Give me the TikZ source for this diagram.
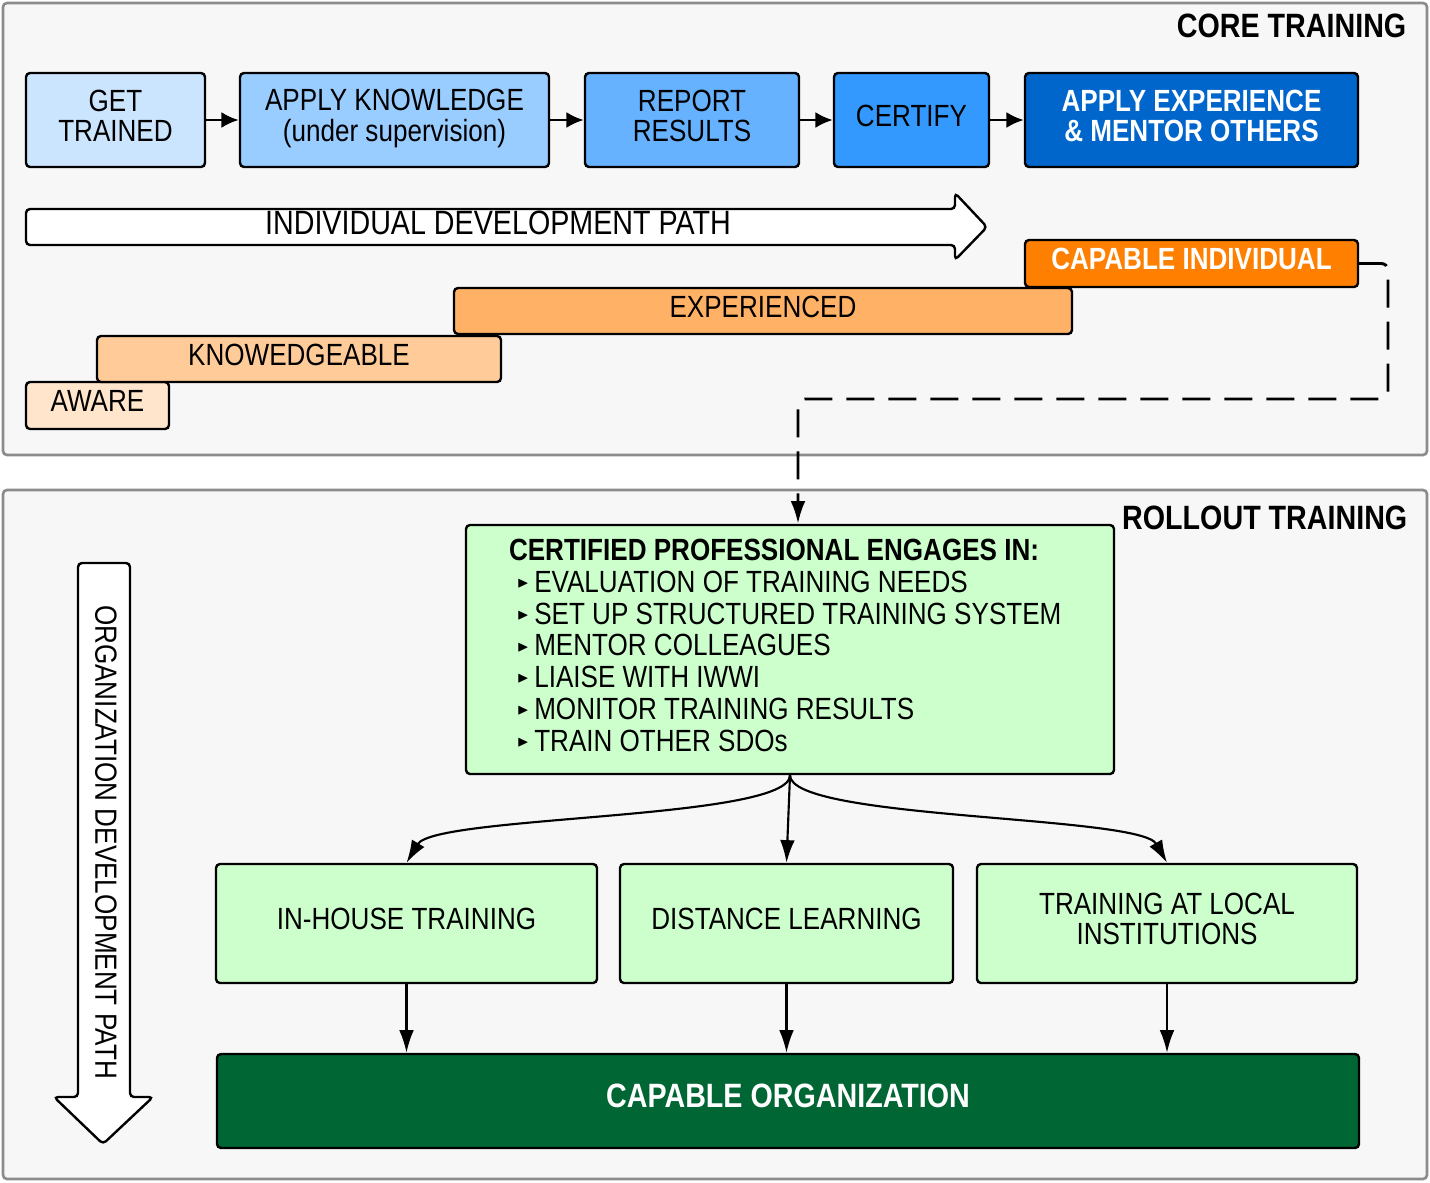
\documentclass[tikz,border=0pt]{standalone}
\usepackage{amssymb}
\usepackage{fontspec}
\setmainfont{Liberation Sans}[FakeStretch=0.85]
\usetikzlibrary{arrows.meta}

\definecolor{blueA}{HTML}{CCE5FF}
\definecolor{blueB}{HTML}{99CCFF}
\definecolor{blueC}{HTML}{66B2FF}
\definecolor{blueD}{HTML}{3399FF}
\definecolor{blueE}{HTML}{0066CC}
\definecolor{orangeA}{HTML}{FFE5CC}
\definecolor{orangeB}{HTML}{FFCC99}
\definecolor{orangeC}{HTML}{FFB266}
\definecolor{orangeD}{HTML}{FF8000}
\definecolor{greenA}{HTML}{CCFFCC}
\definecolor{greenB}{HTML}{006633}
\definecolor{panelfill}{HTML}{F7F7F7}

\newcommand\dgfont{\fontsize{23}{22.5}\selectfont}
\newcommand\dgbigfont{\fontsize{25.3}{24}\selectfont}
\newcommand\boxtext[1]{\begin{tabular}{@{}c@{}}#1\end{tabular}}
\newcommand\boxtextleft[2]{\makebox[#1][l]{\begin{tabular}{@{}l@{}}#2\end{tabular}}}
\newcommand\listmark{\hspace*{6pt}\raisebox{3.5pt}{\scalebox{0.5}{$\blacktriangleright$}}\hspace{4pt}}

\tikzset{
  box/.style={draw=black, line width=1.8pt, rounded corners=3pt, inner sep=0pt, font=\dgfont},
  stepflow/.style={line width=2.2pt, -{Latex[length=13pt,width=12pt]}},
  flow/.style={line width=1.6pt, -{Latex[length=17pt,width=11pt]}},
  panel/.style={draw=black!45, line width=2pt, rounded corners=3pt, fill=panelfill},
  bigarrow/.style={draw=black, line width=1.8pt, fill=white, rounded corners=3pt},
}

\begin{document}
\begin{tikzpicture}[x=0.75pt,y=0.75pt,yscale=-1]
\useasboundingbox (0,0) rectangle (1430,1182);

%Shape: Panels
\draw[panel] (3,3) rectangle (1427,455);
\draw[panel] (3,490) rectangle (1427,1179);

% Titles
\node[font=\dgbigfont\bfseries, anchor=east] (coretitle) at (1411,26) {CORE TRAINING};
\node[font=\dgbigfont\bfseries, anchor=east] (rollouttitle) at (1412,518) {ROLLOUT TRAINING};

%Shape: Core training steps
\node[box, fill=blueA, minimum width=134.25pt, minimum height=70.5pt] (train) at (115.5,120) {\boxtext{GET\\TRAINED}};
\node[box, fill=blueB, minimum width=231.75pt, minimum height=70.5pt] (apply) at (394.5,120) {\boxtext{APPLY KNOWLEDGE\\(under supervision)}};
\node[box, fill=blueC, minimum width=160.5pt, minimum height=70.5pt] (report) at (692,120) {\boxtext{REPORT\\RESULTS}};
\node[box, fill=blueD, minimum width=116.25pt, minimum height=70.5pt] (certify) at (911.5,120) {\boxtext{CERTIFY}};
\node[box, fill=blueE, text=white, minimum width=249.75pt, minimum height=70.5pt, font=\dgfont\bfseries] (mentor) at (1191.5,120) {\boxtext{APPLY EXPERIENCE\\\& MENTOR OTHERS}};

\draw[stepflow] (train.east) -- (apply.west);
\draw[stepflow] (apply.east) -- (report.west);
\draw[stepflow] (report.east) -- (certify.west);
\draw[stepflow] (certify.east) -- (mentor.west);

%Shape: Individual path arrow
\draw[bigarrow] (955,209) -- (26,209) -- (26,245) -- (955,245) -- (955,260) -- (987,227) -- (955,193) -- cycle;
% Text Node
\node[font=\dgbigfont] (idp) at (498,223) {INDIVIDUAL DEVELOPMENT PATH};

%Shape: Competence levels
\node[box, fill=orangeA, minimum width=107.25pt, minimum height=35.25pt] (aware) at (97.5,405.5) {\boxtext{AWARE}};
\node[box, fill=orangeB, minimum width=303pt, minimum height=34.5pt] (knowl) at (299,359) {\boxtext{KNOWEDGEABLE}};
\node[box, fill=orangeC, minimum width=463.5pt, minimum height=34.5pt] (exper) at (763,311) {\boxtext{EXPERIENCED}};
\node[box, fill=orangeD, text=white, minimum width=249.75pt, minimum height=35.25pt, font=\dgfont\bfseries] (capind) at (1191.5,263.5) {\boxtext{CAPABLE INDIVIDUAL}};

%Shape: Organization path arrow
\draw[bigarrow] (130,1097) -- (130,563) -- (78,563) -- (78,1097) -- (54,1097) -- (103,1144) -- (153,1097) -- cycle;
% Text Node
\node[font=\dgfont, rotate=-90] (odp) at (106,842) {ORGANIZATION DEVELOPMENT PATH};

%Shape: Rollout
\node[box, fill=greenA, minimum width=486pt, minimum height=186.75pt, font=\fontsize{23}{23.8}\selectfont] (cert) at (790,649.5) {\boxtextleft{421.5pt}{%
\textbf{CERTIFIED PROFESSIONAL ENGAGES IN:}\\
\listmark EVALUATION OF TRAINING NEEDS\\
\listmark SET UP STRUCTURED TRAINING SYSTEM\\
\listmark MENTOR COLLEAGUES\\
\listmark LIAISE WITH IWWI\\
\listmark MONITOR TRAINING RESULTS\\
\listmark TRAIN OTHER SDOs}};

\node[box, fill=greenA, minimum width=285.75pt, minimum height=89.25pt] (inhouse) at (406.5,923.5) {\boxtext{IN-HOUSE TRAINING}};
\node[box, fill=greenA, minimum width=249.75pt, minimum height=89.25pt] (distance) at (786.5,923.5) {\boxtext{DISTANCE LEARNING}};
\node[box, fill=greenA, minimum width=285pt, minimum height=89.25pt] (local) at (1167,923.5) {\boxtext{TRAINING AT LOCAL\\INSTITUTIONS}};
\node[box, fill=greenB, text=white, minimum width=856.5pt, minimum height=70.5pt, font=\dgbigfont\bfseries] (org) at (788,1101) {\boxtext{CAPABLE ORGANIZATION}};

%Connectors
\draw[flow, line width=2.2pt, dash pattern=on 21pt off 10.5pt, rounded corners=5pt] (capind.east) -| (1388,399) -| ([xshift=6pt]cert.north);
\draw[flow] (cert.south) .. controls (790,820) and (435,815) .. (inhouse.north);
\draw[flow] (cert.south) -- (distance.north);
\draw[flow] (cert.south) .. controls (790,820) and (1140,815) .. (local.north);
\draw[flow] (inhouse.south) -- (inhouse.south |- org.north);
\draw[flow] (distance.south) -- (distance.south |- org.north);
\draw[flow] (local.south) -- (local.south |- org.north);

\end{tikzpicture}
\end{document}
